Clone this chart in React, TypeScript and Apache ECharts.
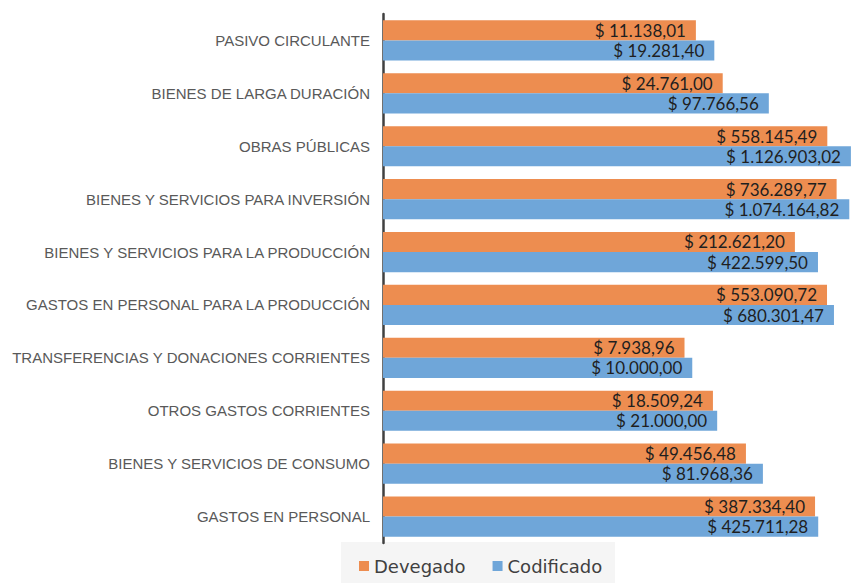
import React, { useEffect, useRef } from "react";
import * as echarts from "echarts";

const categories = [
  "PASIVO CIRCULANTE",
  "BIENES DE LARGA DURACIÓN",
  "OBRAS PÚBLICAS",
  "BIENES Y SERVICIOS PARA INVERSIÓN",
  "BIENES Y SERVICIOS PARA LA PRODUCCIÓN",
  "GASTOS EN PERSONAL PARA LA PRODUCCIÓN",
  "TRANSFERENCIAS Y DONACIONES CORRIENTES",
  "OTROS GASTOS CORRIENTES",
  "BIENES Y SERVICIOS DE CONSUMO",
  "GASTOS EN PERSONAL",
];

const devegado = [
  11138.01, 24761.0, 558145.49, 736289.77, 212621.2, 553090.72, 7938.96,
  18509.24, 49456.48, 387334.4,
];

const codificado = [
  19281.4, 97766.56, 1126903.02, 1074164.82, 422599.5, 680301.47, 10000.0,
  21000.0, 81968.36, 425711.28,
];

const seriesNames = ["Devegado", "Codificado"];

function fmt(v: number): string {
  const fixed = v.toFixed(2);
  const [intPart, dec] = fixed.split(".");
  const withDots = intPart.replace(/\B(?=(\d{3})+(?!\d))/g, ".");
  return "$ " + withDots + "," + dec;
}

export default function App() {
  const ref = useRef<HTMLDivElement>(null);
  useEffect(() => {
    if (!ref.current) return;
    const chart = echarts.init(ref.current, null, { renderer: "svg" });
    const labelStyle = {
      show: true,
      position: "insideRight" as const,
      distance: 10,
      fontFamily: "Lato",
      fontSize: 17,
      color: "#1f1f1f",
      formatter: (p: any) => fmt(p.value),
    };
    chart.setOption({
      animation: false,
      backgroundColor: "#ffffff",
      graphic: [
        {
          type: "rect",
          z: -1,
          shape: { x: 341, y: 542, width: 274, height: 41 },
          style: { fill: "#f5f5f5" },
        },
      ],
      legend: {
        data: seriesNames,
        left: 359,
        top: 557,
        padding: 0,
        icon: "rect",
        itemWidth: 10,
        itemHeight: 10,
        itemGap: 27,
        textStyle: {
          fontFamily: "DejaVu Sans",
          fontSize: 18,
          color: "#404040",
        },
      },
      grid: { left: 383, right: 0, top: 14, bottom: 40, containLabel: false },
      xAxis: {
        type: "log",
        min: 1,
        max: 1130000,
        show: false,
        splitLine: { show: false },
      },
      yAxis: {
        type: "category",
        data: categories,
        inverse: true,
        axisLine: { show: true, lineStyle: { color: "#404040", width: 2.5 } },
        axisTick: { show: false },
        axisLabel: {
          margin: 13,
          fontFamily: "Liberation Sans",
          fontSize: 15,
          color: "#595959",
        },
      },
      series: [
        {
          name: seriesNames[0],
          type: "bar",
          data: devegado,
          barCategoryGap: "24%",
          barGap: "0%",
          itemStyle: { color: "#ED8D50" },
          label: labelStyle,
        },
        {
          name: seriesNames[1],
          type: "bar",
          data: codificado,
          barCategoryGap: "24%",
          barGap: "0%",
          itemStyle: { color: "#6FA6D9" },
          label: labelStyle,
        },
      ],
    });
    return () => chart.dispose();
  }, []);
  return (
    <div
      ref={ref}
      style={{ position: "fixed", left: 0, top: 0, width: 851, height: 583 }}
    />
  );
}
